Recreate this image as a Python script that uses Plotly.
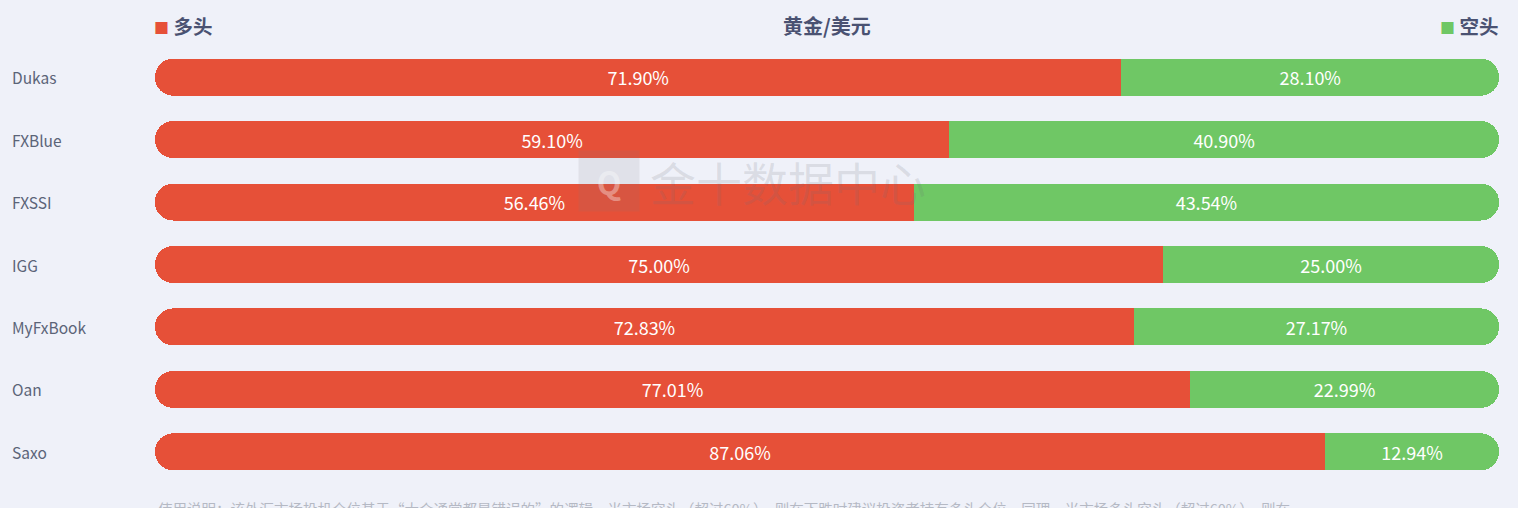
import plotly.graph_objects as go

platforms = ["Dukas", "FXBlue", "FXSSI", "IGG", "MyFxBook", "Oan", "Saxo"]
long_pct = [71.90, 59.10, 56.46, 75.00, 72.83, 77.01, 87.06]
short_pct = [28.10, 40.90, 43.54, 25.00, 27.17, 22.99, 12.94]

title_text = "黄金/美元"
long_name = "多头"
short_name = "空头"
note_text = ("使用说明：该外汇市场投机仓位基于“大众通常都是错误的”的逻辑，当市场空头（超过60%），"
             "则在下跌时建议投资者持有多头仓位，同理，当市场多头空头（超过60%），则在")

RED = "#e65038"
GREEN = "#6fc765"
CLEAR = "rgba(0,0,0,0)"
BG = "#eff1f9"
FONT = "Microsoft YaHei, Noto Sans CJK SC, sans-serif"
TXT = dict(color="#ffffff", size=18, family=FONT)

fig = go.Figure()
# normal axis: long (invisible) + short stacked -> rounded right end on green
fig.add_trace(go.Bar(
    y=platforms, x=long_pct, orientation="h", xaxis="x", yaxis="y",
    marker=dict(color=CLEAR, cornerradius="50%", line=dict(width=0)),
    showlegend=False, hoverinfo="skip",
))
fig.add_trace(go.Bar(
    y=platforms, x=short_pct, orientation="h", xaxis="x", yaxis="y",
    name=short_name, marker=dict(color=GREEN, line=dict(width=0)),
    text=[f"{v:.2f}%" for v in short_pct], textposition="inside",
    insidetextanchor="middle", textfont=TXT,
    showlegend=False, hoverinfo="skip",
))
# reversed axis: short (invisible) + long stacked -> rounded left end on red
fig.add_trace(go.Bar(
    y=platforms, x=short_pct, orientation="h", xaxis="x2", yaxis="y",
    marker=dict(color=CLEAR, cornerradius="50%", line=dict(width=0)),
    showlegend=False, hoverinfo="skip",
))
fig.add_trace(go.Bar(
    y=platforms, x=long_pct, orientation="h", xaxis="x2", yaxis="y",
    name=long_name, marker=dict(color=RED, line=dict(width=0)),
    text=[f"{v:.2f}%" for v in long_pct], textposition="inside",
    insidetextanchor="middle", textfont=TXT,
    showlegend=False, hoverinfo="skip",
))

annotations = []
for p in platforms:
    annotations.append(dict(xref="paper", yref="y", x=-0.1079, y=p, text=p,
                            xanchor="left", yanchor="middle", showarrow=False,
                            font=dict(size=15.5, color="#5b6478", family=FONT)))
annotations.append(dict(xref="paper", yref="paper", x=0.5, y=1.047,
                        text=f"<b>{title_text}</b>", showarrow=False,
                        xanchor="center", yanchor="middle",
                        font=dict(size=20, color="#4a5272", family=FONT)))
annotations.append(dict(xref="paper", yref="paper", x=-0.0025, y=1.047,
                        text=f"<span style='color:{RED};font-size:15px'>■</span> <b>{long_name}</b>",
                        showarrow=False, xanchor="left", yanchor="middle",
                        font=dict(size=19.5, color="#4a5272", family=FONT)))
annotations.append(dict(xref="paper", yref="paper", x=1.001, y=1.047,
                        text=f"<span style='color:{GREEN};font-size:15px'>■</span> <b>{short_name}</b>",
                        showarrow=False, xanchor="right", yanchor="middle",
                        font=dict(size=19.5, color="#4a5272", family=FONT)))
# watermark
annotations.append(dict(xref="paper", yref="paper", x=0.3375, y=0.69,
                        text="<b>Q</b>", showarrow=False, xanchor="center", yanchor="middle",
                        bgcolor="rgba(120,120,130,0.13)", borderpad=10, width=40, height=40,
                        font=dict(size=32, color="rgba(255,255,255,0.35)", family=FONT)))
annotations.append(dict(xref="paper", yref="paper", x=0.367, y=0.69,
                        text="金十数据中心", showarrow=False, xanchor="left", yanchor="middle",
                        font=dict(size=46, color="rgba(110,110,120,0.16)", family=FONT)))
# cut-off usage note (the reference shows only its upper half)
annotations.append(dict(xref="paper", yref="paper", x=0.001, y=-0.03,
                        text=note_text, showarrow=False, xanchor="left", yanchor="top",
                        font=dict(size=14.5, color="#b5b9c4", family=FONT)))

fig.update_layout(
    width=1518, height=508,
    margin=dict(l=155, r=19, t=46, b=25),
    paper_bgcolor=BG, plot_bgcolor=BG,
    barmode="stack", bargap=0.408,
    xaxis=dict(range=[0, 100], visible=False, fixedrange=True),
    xaxis2=dict(range=[100, 0], visible=False, fixedrange=True,
                overlaying="x", anchor="y"),
    yaxis=dict(categoryorder="array", categoryarray=platforms, autorange="reversed",
               showticklabels=False, showgrid=False, zeroline=False, fixedrange=True),
    annotations=annotations,
    font=dict(family=FONT),
    uniformtext=dict(mode="show", minsize=10),
)

fig.write_html("out.html", config={"displayModeBar": False},
               post_script="document.body.style.margin='0';document.body.style.overflow='hidden';")
